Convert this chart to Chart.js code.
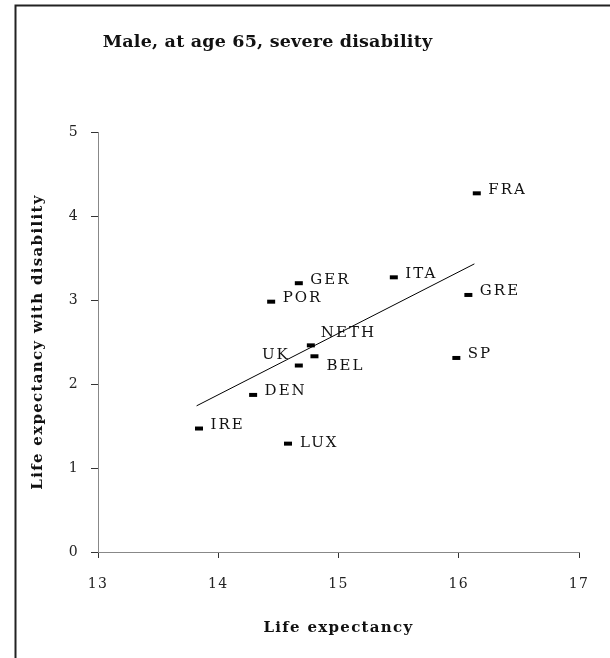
<!DOCTYPE html>
<html>
<head>
<meta charset="utf-8">
<title>Male, at age 65, severe disability</title>
<script src="https://cdn.jsdelivr.net/npm/chart.js@4.4.1/dist/chart.umd.min.js"></script>
<style>
  html, body { margin: 0; padding: 0; background: #fff; }
  #wrap { position: relative; width: 610px; height: 658px; }
</style>
</head>
<body>
<div id="wrap"><canvas id="chart"></canvas></div>
<script>
// 数据 - 估计值
var chartTitle = 'Male, at age 65, severe disability';
var xTitle = 'Life expectancy';
var yTitle = 'Life expectancy with disability';
var countries = ['FRA', 'ITA', 'GRE', 'SP', 'GER', 'POR', 'NETH', 'BEL', 'UK', 'DEN', 'IRE', 'LUX'];
var lifeExp = [16.15, 15.46, 16.08, 15.98, 14.67, 14.44, 14.77, 14.80, 14.67, 14.29, 13.84, 14.58];
var disabilityLE = [4.27, 3.27, 3.06, 2.31, 3.20, 2.98, 2.46, 2.33, 2.22, 1.87, 1.47, 1.29];
// 趋势线两端
var trendX = [13.82, 16.13];
var trendY = [1.74, 3.43];
var xTicks = [13, 14, 15, 16, 17];
var yTicks = [0, 1, 2, 3, 4, 5];

// 标签摆放（样式，不是数据）
var labelPlace = {
    NETH: { dx: 10, dy: -12, align: 'left' },
    BEL: { dx: 12, dy: 9.5, align: 'left' },
    UK: { dx: -9, dy: -10, align: 'right' },
    LUX: { dx: 12, dy: -0.5, align: 'left' }
};
var defaultPlace = { dx: 11.5, dy: -3.5, align: 'left' };

var serif = '"DejaVu Serif", "Liberation Serif", serif';
var spacing = '1.3px';

// 外框、标题、点标签
var decorPlugin = {
    id: 'decor',
    beforeDraw: function(chart) {
        chart.ctx.letterSpacing = spacing;
    },
    afterDatasetsDraw: function(chart) {
        var ctx = chart.ctx;
        var meta = chart.getDatasetMeta(0);
        ctx.save();
        ctx.letterSpacing = '2px';
        ctx.font = '15px ' + serif;
        ctx.fillStyle = '#111';
        ctx.textBaseline = 'middle';
        meta.data.forEach(function(pt, i) {
            var p = labelPlace[countries[i]] || defaultPlace;
            ctx.textAlign = p.align;
            ctx.fillText(countries[i], pt.x + p.dx, pt.y + p.dy);
        });
        ctx.restore();
    },
    afterDraw: function(chart) {
        var ctx = chart.ctx;
        ctx.save();
        ctx.strokeStyle = '#222';
        ctx.lineWidth = 2;
        ctx.beginPath();
        ctx.moveTo(15.5, 658);
        ctx.lineTo(15.5, 5.5);
        ctx.lineTo(610, 5.5);
        ctx.stroke();

        ctx.letterSpacing = '0.2px';
        ctx.font = 'bold 17.5px ' + serif;
        ctx.fillStyle = '#111';
        ctx.textAlign = 'center';
        ctx.textBaseline = 'middle';
        ctx.fillText(chartTitle, 267.5, 42.5);
        ctx.restore();
    }
};

new Chart(document.getElementById('chart').getContext('2d'), {
    type: 'scatter',
    data: {
        datasets: [{
            label: 'countries',
            data: lifeExp.map(function(x, i) { return { x: x, y: disabilityLE[i] }; }),
            pointStyle: 'line',
            pointRadius: 4,
            borderWidth: 4,
            borderColor: '#000',
            backgroundColor: '#000'
        }, {
            label: 'trend',
            data: trendX.map(function(x, i) { return { x: x, y: trendY[i] }; }),
            showLine: true,
            pointRadius: 0,
            borderColor: '#000',
            borderWidth: 1,
            fill: false
        }]
    },
    options: {
        responsive: true,
        maintainAspectRatio: false,
        animation: false,
        events: [],
        layout: {
            padding: { top: 132, right: 31, bottom: 0, left: 0 }
        },
        plugins: {
            legend: { display: false },
            tooltip: { enabled: false },
            title: { display: false }
        },
        scales: {
            x: {
                type: 'linear',
                min: xTicks[0],
                max: xTicks[xTicks.length - 1],
                afterBuildTicks: function(scale) {
                    scale.ticks = xTicks.map(function(v) { return { value: v }; });
                },
                afterFit: function(scale) { scale.height = 106; },
                ticks: {
                    font: { family: serif, size: 14 },
                    color: '#222',
                    padding: 18
                },
                grid: {
                    display: true,
                    drawOnChartArea: false,
                    drawTicks: true,
                    tickLength: 6,
                    tickColor: '#333'
                },
                border: { display: true, color: '#888', width: 1 },
                title: {
                    display: true,
                    text: xTitle,
                    font: { family: serif, size: 15, weight: 'bold' },
                    color: '#111',
                    padding: { top: 0, bottom: 21 }
                }
            },
            y: {
                type: 'linear',
                min: yTicks[0],
                max: yTicks[yTicks.length - 1],
                afterBuildTicks: function(scale) {
                    scale.ticks = yTicks.map(function(v) { return { value: v }; });
                },
                afterFit: function(scale) { scale.width = 98; },
                ticks: {
                    font: { family: serif, size: 14 },
                    color: '#222',
                    padding: 12
                },
                grid: {
                    display: true,
                    drawOnChartArea: false,
                    drawTicks: true,
                    tickLength: 7,
                    tickColor: '#333'
                },
                border: { display: true, color: '#888', width: 1 },
                title: {
                    display: true,
                    text: yTitle,
                    font: { family: serif, size: 15, weight: 'bold' },
                    color: '#111',
                    padding: { top: 29, bottom: 0 }
                }
            }
        }
    },
    plugins: [decorPlugin]
});
</script>
</body>
</html>
